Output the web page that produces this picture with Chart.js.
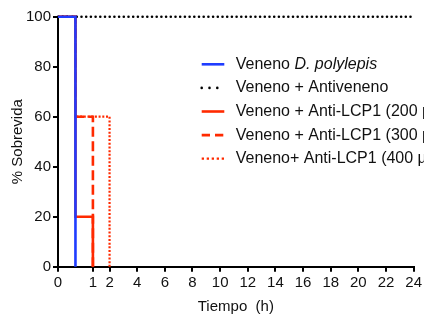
<!DOCTYPE html>
<html>
<head>
<meta charset="utf-8">
<script src="https://cdn.jsdelivr.net/npm/chart.js@4/dist/chart.umd.min.js"></script>
<style>
  html, body { margin: 0; padding: 0; background: #fff; }
  #wrap { width: 424px; height: 320px; }
</style>
</head>
<body>
<div id="wrap"><canvas id="c" width="424" height="320"></canvas></div>
<script>
// Survival (%) over time (h) for each treatment group, Kaplan-Meier style steps
const SERIES_LABELS = [
  'Veneno D. polylepis',
  'Veneno + Antiveneno',
  'Veneno + Anti-LCP1 (200 µg)',
  'Veneno + Anti-LCP1 (300 µg)',
  'Veneno+ Anti-LCP1 (400 µg)'
];
const ITALIC_TERM = 'D. polylepis';

const venenoTimes = [0, 0.5];
const venenoSurv = [100, 0];
const antivenenoTimes = [0, 24];
const antivenenoSurv = [100, 100];
const lcp200Times = [0, 0.5, 1];
const lcp200Surv = [100, 20, 0];
const lcp300Times = [0, 0.5, 1];
const lcp300Surv = [100, 60, 0];
const lcp400Times = [0, 0.5, 2];
const lcp400Surv = [100, 60, 0];

const X_TICKS = [0, 1, 2, 4, 6, 8, 10, 12, 14, 16, 18, 20, 22, 24];
const Y_TICKS = [0, 20, 40, 60, 80, 100];

// The first two hours are stretched on the time axis: [from, to, relative width]
const TIME_SEGMENTS = [[0, 1, 2.525], [1, 2, 1.205], [2, 24, 22]];

function warp(h) {
  let pos = 0;
  for (const [a, b, w] of TIME_SEGMENTS) {
    if (h <= a) break;
    const t = Math.min(h, b);
    pos += (t - a) / (b - a) * w;
  }
  return pos;
}
function unwarp(p) {
  let pos = 0;
  for (const [a, b, w] of TIME_SEGMENTS) {
    if (p <= pos + w) return a + (p - pos) / w * (b - a);
    pos += w;
  }
  return TIME_SEGMENTS[TIME_SEGMENTS.length - 1][1];
}

class WarpedTimeScale extends Chart.LinearScale {
  getPixelForValue(v) {
    if (v === null || v === undefined || isNaN(v)) return NaN;
    return this.getPixelForDecimal((warp(v) - warp(this.min)) / (warp(this.max) - warp(this.min)));
  }
  getValueForPixel(p) {
    const span = warp(this.max) - warp(this.min);
    return unwarp(warp(this.min) + this.getDecimalForPixel(p) * span);
  }
}
WarpedTimeScale.id = 'warpedTime';
WarpedTimeScale.defaults = Chart.LinearScale.defaults;
Chart.register(WarpedTimeScale);

const toPoints = (xs, ys) => xs.map((x, i) => ({ x, y: ys[i] }));

const BLUE = '#1f3cff';
const RED = '#ff2a00';
const BLACK = '#000000';
const FONT = '"Liberation Sans", Arial, Helvetica, sans-serif';

const datasets = [
  { label: SERIES_LABELS[0], data: toPoints(venenoTimes, venenoSurv), borderColor: BLUE, borderWidth: 2.6, borderDash: [] },
  { label: SERIES_LABELS[1], data: toPoints(antivenenoTimes, antivenenoSurv), borderColor: BLACK, borderWidth: 2.6, borderDash: [0, 4.7], borderCapStyle: 'round', legendDash: [0, 7.8] },
  { label: SERIES_LABELS[2], data: toPoints(lcp200Times, lcp200Surv), borderColor: RED, borderWidth: 2.6, borderDash: [] },
  { label: SERIES_LABELS[3], data: toPoints(lcp300Times, lcp300Surv), borderColor: RED, borderWidth: 2.6, borderDash: [10, 4.5], legendDash: [8.3, 5] },
  { label: SERIES_LABELS[4], data: toPoints(lcp400Times, lcp400Surv), borderColor: RED, borderWidth: 2.2, borderDash: [2, 1.7], legendDash: [2.3, 2.7] }
].map(d => Object.assign({ stepped: 'before', pointRadius: 0, fill: false, clip: false, borderCapStyle: 'butt', borderJoinStyle: 'miter' }, d));

// Legend drawn by hand so the species name can be set in italics
const sideLegend = {
  id: 'sideLegend',
  afterDraw(chart) {
    const ctx = chart.ctx;
    const x0 = 201.7, x1 = 224.3, tx = 235.7, y0 = 64.3, dy = 23.6;
    ctx.save();
    ctx.textBaseline = 'middle';
    chart.data.datasets.forEach((ds, i) => {
      const y = y0 + i * dy;
      ctx.beginPath();
      ctx.strokeStyle = ds.borderColor;
      ctx.lineWidth = ds.borderWidth;
      ctx.lineCap = ds.borderCapStyle || 'butt';
      ctx.setLineDash(ds.legendDash || ds.borderDash || []);
      ctx.moveTo(x0, y);
      ctx.lineTo(x1, y);
      ctx.stroke();
      ctx.setLineDash([]);
      ctx.fillStyle = '#111';
      const label = ds.label;
      const k = label.indexOf(ITALIC_TERM);
      if (k >= 0) {
        const pre = label.slice(0, k);
        ctx.font = '16px ' + FONT;
        ctx.fillText(pre, tx, y);
        const w = ctx.measureText(pre).width;
        ctx.font = 'italic 16px ' + FONT;
        ctx.fillText(ITALIC_TERM, tx + w, y);
      } else {
        ctx.font = '16px ' + FONT;
        ctx.fillText(label, tx, y);
      }
    });
    ctx.restore();
  }
};

new Chart(document.getElementById('c'), {
  type: 'line',
  data: { datasets },
  plugins: [sideLegend],
  options: {
    responsive: false,
    animation: false,
    layout: { padding: { top: 16.7, right: 9, left: 0, bottom: 0 } },
    plugins: { legend: { display: false }, tooltip: { enabled: false } },
    scales: {
      x: {
        type: 'warpedTime',
        min: 0,
        max: 24,
        afterBuildTicks: s => { s.ticks = X_TICKS.map(v => ({ value: v })); },
        afterFit: s => { s.height = 53.3; },
        grid: { drawOnChartArea: false, drawTicks: true, tickLength: 5, lineWidth: 2, color: BLACK },
        border: { display: true, color: BLACK, width: 2 },
        ticks: {
          autoSkip: false, maxRotation: 0, padding: 2, color: '#111',
          font: { family: FONT, size: 15 },
          callback: v => String(v)
        },
        title: { display: true, text: 'Tiempo  (h)', color: '#111', font: { family: FONT, size: 15 }, padding: { top: 0, bottom: 4.3 } }
      },
      y: {
        type: 'linear',
        min: 0,
        max: 100,
        afterBuildTicks: s => { s.ticks = Y_TICKS.map(v => ({ value: v })); },
        afterFit: s => { s.width = 58; },
        grid: { drawOnChartArea: false, drawTicks: true, tickLength: 5, lineWidth: 2, color: BLACK },
        border: { display: true, color: BLACK, width: 2 },
        ticks: { padding: 2, color: '#111', font: { family: FONT, size: 15 }, callback: v => String(v) },
        title: { display: true, text: '% Sobrevida', color: '#111', font: { family: FONT, size: 15 }, padding: { top: 8.5, bottom: 0 } }
      }
    }
  }
});
</script>
</body>
</html>
